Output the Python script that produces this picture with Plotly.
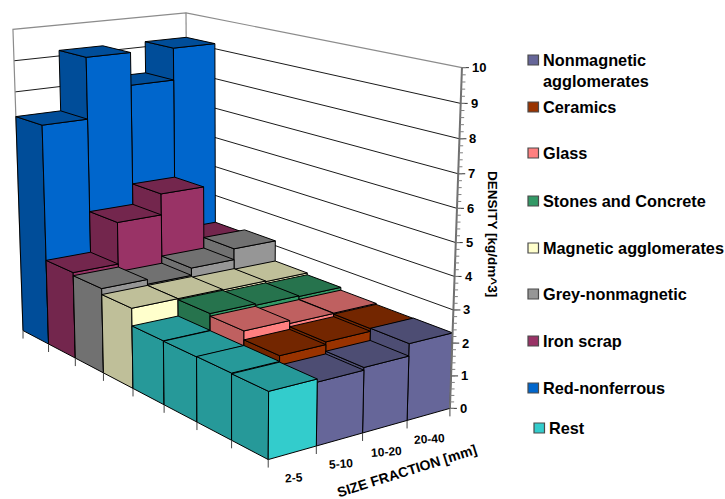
import numpy as np
import plotly.graph_objects as go

W, H = 725, 499

# Values per material; the first column of the four front rows is taken by "Rest".
size_fractions = ["2-5", "5-10", "10-20", "20-40"]
z_ticks = list(range(11))
rest = [1.95, 1.97, 1.96, 1.97]
nonmagnetic = [1.86, 1.94, 2.31]
ceramics = [2.14, 2.22, 2.30]
glass = [2.41, 2.32, 2.33]
stones = [2.49, 2.44, 2.42]
magnetic = [2.52, 2.52, 2.50, 2.48]
grey = [2.71, 2.56, 2.80, 3.16]
iron = [2.81, 4.17, 4.86, 3.06]
red = [7.20, 9.18, 8.12, 9.17]

legend_names = ["Nonmagnetic<br>agglomerates", "Ceramics", "Glass", "Stones and Concrete",
                "Magnetic agglomerates", "Grey-nonmagnetic", "Iron scrap", "Red-nonferrous", "Rest"]
legend_keys = ["nm", "ce", "gl", "st", "ma", "gr", "ir", "re", "rs"]
legend_y = [60, 107, 153, 201, 248, 294, 341, 388, 428]

# (lit side colour, shaded side colour)
palette = {"nm": ("#666699", "#4D4D73"), "ce": ("#993300", "#732600"), "gl": ("#FF8080", "#BF6060"),
           "st": ("#339966", "#26734D"), "ma": ("#FFFFCC", "#BFBF99"), "gr": ("#969696", "#717171"),
           "ir": ("#993366", "#73264D"), "re": ("#0066CC", "#004D99"), "rs": ("#33CCCC", "#269999")}

cells = []
for j, v in enumerate(rest):
    cells.append((j, 0, v, "rs"))
for j, (vals, key) in enumerate([(nonmagnetic, "nm"), (ceramics, "ce"), (glass, "gl"), (stones, "st")]):
    for i, v in enumerate(vals):
        cells.append((j, i + 1, v, key))
for j, (vals, key) in enumerate([(magnetic, "ma"), (grey, "gr"), (iron, "ir"), (red, "re")]):
    for i, v in enumerate(vals):
        cells.append((j + 4, i, v, key))

# Oblique view: a projective map from (fraction, row, density) to sheet position,
# solved from where the frame corners and floor divisions sit on the sheet.
frame_points = np.array([
    (0, 0, 0, 268, 461), (4, 0, 0, 449.5, 407), (0, 8, 0, 23, 330), (4, 8, 0, 188, 298),
    (4, 0, 10, 462, 68), (4, 8, 10, 186, 12), (0, 8, 10, 13, 30), (0, 0, 1.95, 268, 391),
    (1, 0, 0, 317, 447), (2, 0, 0, 363, 433), (3, 0, 0, 407, 420),
    (0, 1, 0, 232, 440), (0, 2, 0, 197, 422), (0, 3, 0, 164, 405), (0, 4, 0, 133, 388),
    (0, 5, 0, 103, 373), (0, 6, 0, 75, 358), (0, 7, 0, 49, 343)], float)
rows = []
for x, y, z, u, v in frame_points:
    rows.append([x, y, z, 1, 0, 0, 0, 0, -u * x, -u * y, -u * z, -u])
    rows.append([0, 0, 0, 0, x, y, z, 1, -v * x, -v * y, -v * z, -v])
VIEW = np.linalg.svd(np.array(rows))[2][-1].reshape(3, 4)


def view(x, y, z):
    h = VIEW @ np.array([x, y, z, 1.0])
    return h[0] / h[2], h[1] / h[2]


def polyline(points, color, width=1, fill=None, name=None):
    uv = [view(*p) for p in points]
    return go.Scatter(x=[a for a, _ in uv], y=[b for _, b in uv], mode="lines",
                      line=dict(color=color, width=width), fill="toself" if fill else None,
                      fillcolor=fill, hoverinfo="skip", showlegend=False, name=name)


fig = go.Figure()

# walls: density gridlines and the outer frame
for t in z_ticks[:-1]:
    fig.add_trace(polyline([(0, 8, t), (4, 8, t), (4, 0, t)], "#1a1a1a", 1))
fig.add_trace(polyline([(0, 8, 0), (0, 8, 10), (4, 8, 10), (4, 0, 10)], "#8c8c8c", 1.2))
fig.add_trace(polyline([(4, 8, 0), (4, 8, 10)], "#8c8c8c", 1.2))

# bars, back to front
for j, i, v, key in sorted(cells, key=lambda c: (-c[0], -c[1])):
    lit, shade = palette[key]
    fig.add_trace(polyline([(i, j, 0), (i, j + 1, 0), (i, j + 1, v), (i, j, v), (i, j, 0)], "#000000", 1, shade))
    fig.add_trace(polyline([(i, j, 0), (i + 1, j, 0), (i + 1, j, v), (i, j, v), (i, j, 0)], "#000000", 1, lit))
    fig.add_trace(polyline([(i, j, v), (i + 1, j, v), (i + 1, j + 1, v), (i, j + 1, v), (i, j, v)], "#000000", 1, shade))

# ticks along the floor edges
tick_x, tick_y = [], []
for p in [(i, 0, 0) for i in range(5)] + [(0, j, 0) for j in range(1, 9)]:
    a, b = view(*p)
    tick_x += [a, a, None]
    tick_y += [b, b + 8, None]
fig.add_trace(go.Scatter(x=tick_x, y=tick_y, mode="lines", line=dict(color="#444444", width=1),
                         hoverinfo="skip", showlegend=False))

# density axis with major and minor ticks
fig.add_trace(polyline([(4, 0, 0), (4, 0, 10)], "#707070", 2))
for step, length, color in ((1, 7, "#333333"), (0.2, 4, "#808080")):
    tx, ty = [], []
    for t in np.arange(0, 10 + 1e-9, step):
        a, b = view(4, 0, t)
        tx += [a, a + length, None]
        ty += [b, b, None]
    fig.add_trace(go.Scatter(x=tx, y=ty, mode="lines", line=dict(color=color, width=1),
                             hoverinfo="skip", showlegend=False))

FONT = "Liberation Sans"
ann = []
for t in z_ticks:
    a, b = view(4, 0, t)
    ann.append(dict(x=a + 8, y=b, xref="x", yref="y", text=f"<b>{t}</b>", showarrow=False, xanchor="left",
                    font=dict(family=FONT, size=13, color="black")))
for i, s in enumerate(size_fractions):
    a, b = view(i + 0.5, 0, 0)
    ann.append(dict(x=a + 1, y=b + 25, xref="x", yref="y", text=f"<b>{s}</b>", showarrow=False, textangle=-4,
                    font=dict(family=FONT, size=12, color="black")))
ann.append(dict(x=406, y=470.5, xref="x", yref="y", text="<b>SIZE FRACTION [mm]</b>", showarrow=False, textangle=-17.5,
                font=dict(family=FONT, size=14, color="black")))
ann.append(dict(x=493, y=234, xref="x", yref="y", text="<b>DENSITY [kg/dm^3]</b>", showarrow=False, textangle=90,
                font=dict(family=FONT, size=13.5, color="black")))

shapes = []
for name, key, yy in zip(legend_names, legend_keys, legend_y):
    rest_row = key == "rs"
    x0 = 534 if rest_row else 528
    shapes.append(dict(type="rect", xref="x", yref="y", x0=x0, x1=x0 + 10.5, y0=yy - 5, y1=yy + 5,
                       fillcolor=palette[key][0], line=dict(color="#4a4a4a", width=1.2)))
    if "<br>" in name:
        ann.append(dict(x=541, y=yy - 11, xref="x", yref="y", text="<b>" + name + "</b>", showarrow=False, xanchor="left",
                        yanchor="top", align="left", font=dict(family=FONT, size=16.3, color="black")))
    else:
        ann.append(dict(x=547 if rest_row else 541, y=yy, xref="x", yref="y", text=f"<b>{name}</b>", showarrow=False,
                        xanchor="left", font=dict(family=FONT, size=16.3, color="black")))

fig.update_layout(width=W, height=H, margin=dict(l=0, r=0, t=0, b=0), paper_bgcolor="white", plot_bgcolor="white",
                  showlegend=False, annotations=ann, shapes=shapes,
                  xaxis=dict(range=[0, W], visible=False, fixedrange=True),
                  yaxis=dict(range=[H, 0], visible=False, fixedrange=True))
fig.write_html("out.html")
